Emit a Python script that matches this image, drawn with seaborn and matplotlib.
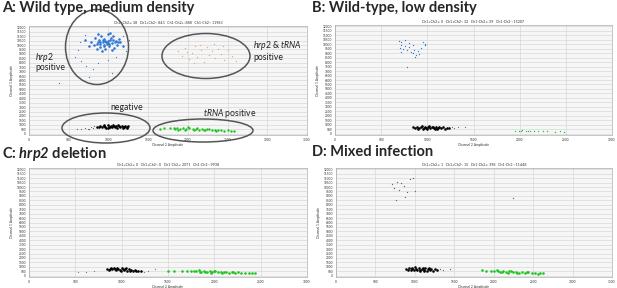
import matplotlib
matplotlib.use("Agg")
import matplotlib.pyplot as plt
import seaborn as sns
import pandas as pd
from matplotlib.patches import Ellipse

sns.set_theme(style="whitegrid")
plt.rcParams['font.family'] = ['Lato', 'DejaVu Sans']
plt.rcParams['mathtext.fontset'] = 'custom'
plt.rcParams['mathtext.rm'] = 'Lato'
plt.rcParams['mathtext.it'] = 'Lato:italic'
plt.rcParams['mathtext.bf'] = 'Lato:bold'
plt.rcParams['mathtext.bfit'] = 'Lato:italic:bold'

# ---- panel titles and counts ----
headings = ["A: Wild type, medium density", "B: Wild-type, low density",
            r"C: $\mathbfit{hrp2}$ deletion", "D: Mixed infection"]
subtitles = ["Ch1+Ch2+: 38   Ch1+Ch2-: 843   Ch1-Ch2+: 888   Ch1-Ch2-: 11983",
             "Ch1+Ch2+: 0   Ch1+Ch2-: 32   Ch1-Ch2+: 29   Ch1-Ch2-: 15207",
             "Ch1+Ch2+: 0   Ch1+Ch2-: 0   Ch1-Ch2+: 2071   Ch1-Ch2-: 9938",
             "Ch1+Ch2+: 1   Ch1+Ch2-: 15   Ch1-Ch2+: 398   Ch1-Ch2-: 11448"]
x_max = [3500, 3000, 3000, 3500]
y_ticks = list(range(0, 12001, 500))

# ---- droplets, panel A ----
a_blue_x = [780, 830, 860, 880, 900, 910, 930, 950, 960, 980, 1000, 1010, 1030, 1050, 1070, 1090, 1110, 1130,
            850, 920, 990, 1040, 820, 940, 1000, 960, 900, 1060, 1150, 1180, 750, 700, 870, 1020,
            890, 970, 1020, 1080, 930, 1010, 870, 1060, 950, 1120]
a_blue_y = [10400, 10800, 10100, 10600, 9800, 11000, 10300, 10700, 9600, 10100, 10500, 9900, 10800, 10200, 9700,
            10500, 10000, 10700, 9500, 9300, 11200, 9400, 10000, 10000, 10250, 10450, 10350, 11000, 10300, 9900,
            9900, 10600, 11300, 11400,
            10100, 10300, 10600, 10300, 10550, 10150, 10400, 10550, 9850, 10400]
a_blue_sp_x = [620, 660, 720, 800, 870, 990, 1100, 1200, 1050, 760, 1180, 1220, 640, 580, 1260, 700]
a_blue_sp_y = [9400, 8200, 7600, 7300, 8000, 8300, 8600, 7700, 6900, 6400, 11000, 9300, 10300, 8700, 10600, 11100]
a_orange_x = [1870, 1920, 1960, 2010, 2050, 2090, 2120, 2160, 2200, 2240, 2270, 2300, 2340, 2380, 2420, 2460,
              2500, 2550, 2600, 2150, 1990, 2330, 2080, 2440]
a_orange_y = [9300, 8800, 9700, 8400, 9100, 9900, 8600, 9400, 8100, 9800, 8900, 9300, 8500, 9600, 9000, 8300,
              9400, 8800, 8200, 10000, 9200, 10100, 8000, 9900]
a_black_x = [850, 880, 900, 920, 950, 970, 990, 1010, 1030, 1050, 1070, 1090, 1110, 1130, 1150, 1170, 1190,
             1210, 1230, 1250, 940, 1000, 1060, 1120, 1180, 1240, 960, 1080, 1200, 1020]
a_black_y = [800, 700, 900, 760, 850, 650, 950, 780, 880, 700, 920, 810, 690, 880, 760, 920, 700, 830, 760, 860,
             980, 620, 1000, 1020, 620, 680, 760, 760, 760, 700]
a_gray_x = [600, 650, 700, 740, 780, 810, 760, 820, 383]
a_gray_y = [500, 560, 620, 580, 700, 640, 480, 820, 5690]
a_green_x = [1780, 1820, 1860, 1900, 1940, 1980, 2020, 2060, 2100, 2140, 2180, 2220, 2260, 2300, 2340, 2380,
             2420, 2460, 2500, 2540, 1880, 2000, 2120, 2240, 2360, 1840, 1960, 2080, 2200, 1700, 1650, 2580]
a_green_y = [650, 600, 680, 560, 640, 520, 600, 500, 560, 470, 530, 440, 500, 420, 460, 380, 420, 350, 380, 330,
             470, 700, 640, 560, 300, 520, 430, 410, 380, 620, 580, 300]

# ---- droplets, panel B ----
b_blue_x = [690, 710, 720, 740, 760, 780, 800, 820, 840, 860, 880, 900, 930, 950, 970, 720, 870, 980, 780, 800,
            850, 760, 700, 910]
b_blue_y = [10400, 9900, 10200, 9500, 9800, 9300, 9700, 9100, 9000, 9400, 8800, 9200, 9600, 10300, 10000, 9100,
            8600, 9900, 7480, 10100, 9900, 10500, 9600, 8900]
b_black_x = [850, 870, 890, 910, 930, 950, 970, 990, 1010, 1030, 1050, 1070, 1090, 1110, 1130, 1150, 1170, 1190,
             1210, 1240, 960, 1020, 1080, 1000, 940, 1120, 900, 1060]
b_black_y = [700, 600, 780, 650, 720, 560, 800, 640, 720, 580, 780, 650, 700, 560, 740, 620, 690, 560, 650, 600,
             680, 830, 560, 560, 820, 660, 560, 700]
b_gray_x = [1270, 1330, 1410, 1290]
b_gray_y = [800, 760, 800, 620]
b_green_x = [1950, 1990, 2030, 2070, 2110, 2150, 2200, 2250, 2300, 2380, 2440, 2480, 2010, 2090]
b_green_y = [330, 300, 360, 280, 320, 270, 300, 260, 290, 220, 260, 240, 250, 350]

# ---- droplets, panel C ----
c_black_x = [840, 860, 880, 900, 920, 940, 960, 980, 1000, 1020, 1040, 1060, 1080, 1100, 1120, 1140, 1160, 1180,
             1210, 950, 990, 1050, 870, 1010, 930, 1090]
c_black_y = [760, 640, 840, 700, 900, 600, 780, 680, 860, 620, 760, 560, 700, 620, 560, 640, 520, 580, 500, 900,
             560, 880, 740, 740, 780, 540]
c_gray_x = [614, 700, 1360, 1280, 1240, 530]
c_gray_y = [420, 480, 750, 480, 440, 400]
c_green_x = [1650, 1700, 1750, 1800, 1830, 1860, 1890, 1920, 1950, 1980, 2010, 2040, 2070, 2100, 2130, 2160,
             2190, 2220, 2250, 2290, 2330, 2370, 2410, 2440, 1900, 2000, 1850, 2080, 2200, 1780, 1560, 1500, 1960]
c_green_y = [520, 480, 540, 500, 600, 450, 560, 420, 520, 400, 480, 380, 450, 360, 420, 340, 400, 320, 370, 300,
             340, 280, 300, 260, 470, 580, 380, 300, 460, 580, 560, 540, 350]

# ---- droplets, panel D ----
d_gray_x = [708, 740, 770, 800, 830, 860, 900, 940, 980, 1000, 760, 880, 2245, 1320, 1360, 1440]
d_gray_y = [10300, 9900, 10600, 9700, 10500, 10100, 9400, 10900, 11000, 9600, 8530, 8900, 8750, 700, 640, 800]
d_black_x = [890, 910, 930, 950, 970, 990, 1010, 1030, 1050, 1070, 1090, 1110, 1130, 1150, 1170, 1190, 1210,
             1230, 1250, 1280, 1000, 1100, 1060, 1180, 960, 1120]
d_black_y = [740, 620, 820, 680, 880, 600, 780, 680, 860, 600, 760, 660, 840, 580, 740, 640, 780, 560, 700, 620,
             940, 920, 500, 880, 720, 540]
d_green_x = [1960, 2000, 2040, 2080, 2120, 2160, 2200, 2240, 2280, 2320, 2360, 2400, 2440, 2480, 2520, 2560,
             2590, 2100, 2220, 2300, 2420, 2060, 2180, 1850, 1900, 2620]
d_green_y = [560, 500, 600, 460, 540, 420, 500, 380, 450, 340, 410, 310, 370, 280, 330, 240, 280, 380, 580, 280,
             440, 560, 320, 600, 520, 250]

BLUE, GREEN, ORANGE = "#2f78d8", "#1fc41f", "#e9a47c"

panels = [
    [(a_blue_x, a_blue_y, BLUE, 3.5), (a_blue_sp_x, a_blue_sp_y, BLUE, 0.8), (a_orange_x, a_orange_y, ORANGE, 0.9),
     (a_black_x, a_black_y, "black", 3.5), (a_gray_x, a_gray_y, "#666666", 0.8), (a_green_x, a_green_y, GREEN, 3)],
    [(b_blue_x, b_blue_y, BLUE, 0.9), (b_black_x, b_black_y, "black", 3.5), (b_gray_x, b_gray_y, "#777777", 0.8),
     (b_green_x, b_green_y, GREEN, 0.9)],
    [(c_black_x, c_black_y, "black", 3.5), (c_gray_x, c_gray_y, "#777777", 0.8), (c_green_x, c_green_y, GREEN, 3.5)],
    [(d_gray_x, d_gray_y, "#666666", 0.9), (d_black_x, d_black_y, "black", 3.5), (d_green_x, d_green_y, GREEN, 3.5)],
]

W, H = 617, 288
fig = plt.figure(figsize=(W / 100, H / 100), dpi=100)

# axes boxes in pixels: left, top, width, height
boxes = [(29, 26, 278, 109), (335, 25, 277, 110), (29, 168, 278, 109), (336, 168, 276, 109)]
head_pos = [(2, 1), (312, 1), (2, 145), (312, 145)]

for i, (l, t, w, h) in enumerate(boxes):
    ax = fig.add_axes([l / W, (H - t - h) / H, w / W, h / H])
    ax.set_facecolor("#f6f6f6")
    for xs, ys, col, s in panels[i]:
        sns.scatterplot(x=xs, y=ys, color=col, s=s, linewidth=0, ax=ax)
    ax.set_xlim(0, x_max[i])
    ax.set_ylim(-150, 12150)
    ax.set_xticks(list(range(0, x_max[i] + 1, 500)))
    ax.set_yticks(y_ticks)
    ax.tick_params(labelsize=2.3, length=1, width=0.3, pad=1, colors="#333333")
    ax.grid(True, color="#d2d2d2", linewidth=0.4)
    for sp in ax.spines.values():
        sp.set_color("#999999")
        sp.set_linewidth(0.4)
    ax.set_title(subtitles[i], fontsize=2.6, pad=1.5, color="#333333")
    ax.set_xlabel("Channel 2 Amplitude", fontsize=2.4, labelpad=1, color="#333333")
    ax.set_ylabel("Channel 1 Amplitude", fontsize=2.4, labelpad=2, color="#333333")
    hx, hy = head_pos[i]
    fig.text(hx / W, 1 - hy / H, headings[i], fontsize=10.5, fontweight="bold", ha="left", va="top")

# annotation ellipses on panel A (figure pixels: cx, cy, w, h)
ellipses = [(97, 47, 63, 75), (206, 56, 88, 45), (106, 128, 88, 30), (203, 130.5, 100, 23)]
for cx, cy, ew, eh in ellipses:
    fig.patches.append(Ellipse((cx / W, 1 - cy / H), ew / W, eh / H, transform=fig.transFigure,
                               fill=False, edgecolor="#555555", linewidth=1.1))

labels = [(35, 57, r"$\mathit{hrp2}$"), (35, 67, "positive"),
          (253, 45, r"$\mathit{hrp2}$ & $\mathit{tRNA}$"), (253, 57, "positive"),
          (110, 108, "negative"), (203, 113, r"$\mathit{tRNA}$ positive")]
for lx, ly, txt in labels:
    fig.text(lx / W, 1 - ly / H, txt, fontsize=6.2, ha="left", va="center", color="#222222")

fig.savefig("out.png", dpi=100)
